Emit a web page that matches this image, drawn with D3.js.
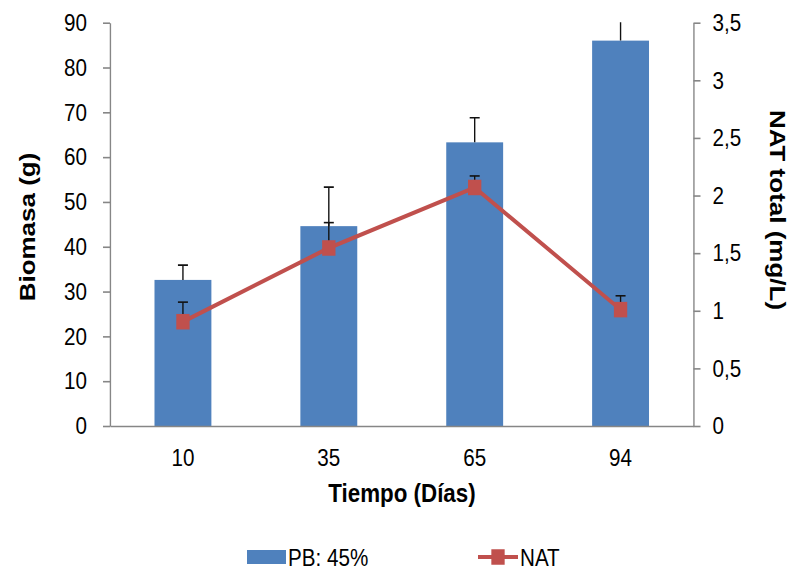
<!DOCTYPE html>
<html>
<head>
<meta charset="utf-8">
<script src="https://cdn.jsdelivr.net/npm/d3@7"></script>
<style>
  html, body { margin: 0; padding: 0; background: #fff; }
  svg { display: block; }
  text { font-family: "Liberation Sans", Arial, sans-serif; fill: #000; }
</style>
</head>
<body>
<svg id="chart" width="790" height="573"></svg>
<script>
// ---- data ----
const days = ["10", "35", "65", "94"];
const biomass = [32.6, 44.6, 63.3, 86.0];
const biomassErr = [3.3, 8.7, 5.5, 4.6];
const nat = [0.905, 1.545, 2.07, 1.01];
const natErr = [0.17, 0.22, 0.10, 0.12];
const leftTicks = [0, 10, 20, 30, 40, 50, 60, 70, 80, 90];
const rightTicks = [0, 0.5, 1, 1.5, 2, 2.5, 3, 3.5];
const rightTickLabels = ["0", "0,5", "1", "1,5", "2", "2,5", "3", "3,5"];
const seriesNames = ["PB: 45%", "NAT"];

// ---- layout (whole picture is horizontally condensed) ----
const sx = 0.86;
const V = v => v / sx;
const pLeft = 110, pRight = 693.5, pTop = 22.7, pBottom = 426;
const barColor = "#4F81BD", lineColor = "#C0504D", axisColor = "#868686";

const svg = d3.select("#chart");
const g = svg.append("g").attr("transform", `scale(${sx},1)`);

const x = d3.scaleBand().domain(days).range([V(pLeft), V(pRight)])
  .paddingInner(0.61).paddingOuter(0.305);
const yL = d3.scaleLinear().domain([0, 90]).range([pBottom, pTop]);
const yR = d3.scaleLinear().domain([0, 3.5]).range([pBottom, pTop]);

g.append("clipPath").attr("id", "plotClip").append("rect")
  .attr("x", V(pLeft) - 20).attr("y", pTop - 0.5)
  .attr("width", V(pRight) - V(pLeft) + 40).attr("height", pBottom - pTop + 1);

// bars
g.append("g").selectAll("rect").data(days).join("rect")
  .attr("x", d => x(d)).attr("width", x.bandwidth())
  .attr("y", (d, i) => yL(biomass[i]))
  .attr("height", (d, i) => pBottom - yL(biomass[i]))
  .attr("fill", barColor);

// bar error bars (plus only)
const capW = V(10) / 2;
const be = g.append("g").attr("clip-path", "url(#plotClip)")
  .attr("stroke", "#111").attr("stroke-width", 1.6);
days.forEach((d, i) => {
  const cx = x(d) + x.bandwidth() / 2;
  const y0 = yL(biomass[i]), y1 = yL(biomass[i] + biomassErr[i]);
  be.append("line").attr("x1", cx).attr("x2", cx).attr("y1", y0).attr("y2", y1);
  be.append("line").attr("x1", cx - capW).attr("x2", cx + capW).attr("y1", y1).attr("y2", y1);
});

// NAT error bars
const ne = g.append("g").attr("stroke", "#111").attr("stroke-width", 1.6);
days.forEach((d, i) => {
  const cx = x(d) + x.bandwidth() / 2;
  const y0 = yR(nat[i]), y1 = yR(nat[i] + natErr[i]);
  ne.append("line").attr("x1", cx).attr("x2", cx).attr("y1", y0).attr("y2", y1);
  ne.append("line").attr("x1", cx - capW).attr("x2", cx + capW).attr("y1", y1).attr("y2", y1);
});

// NAT line
const line = d3.line()
  .x((d, i) => x(days[i]) + x.bandwidth() / 2)
  .y(d => yR(d));
g.append("path").datum(nat).attr("d", line)
  .attr("fill", "none").attr("stroke", lineColor).attr("stroke-width", 4.2);

// markers
const mk = 15.5;
g.append("g").selectAll("rect").data(nat).join("rect")
  .attr("x", (d, i) => x(days[i]) + x.bandwidth() / 2 - mk / 2)
  .attr("y", d => yR(d) - mk / 2)
  .attr("width", mk).attr("height", mk)
  .attr("fill", lineColor);

// axes
function styleAxis(sel) {
  sel.select(".domain").attr("stroke", axisColor).attr("stroke-width", 1.6);
  sel.selectAll(".tick line").attr("stroke", axisColor).attr("stroke-width", 1.6);
  sel.selectAll(".tick text").attr("font-size", 24).attr("fill", "#000")
    .style("font-family", '"Liberation Sans", Arial, sans-serif');
}

const axL = g.append("g").attr("transform", `translate(${V(pLeft)},0)`)
  .call(d3.axisLeft(yL).tickValues(leftTicks).tickFormat(d3.format("d"))
    .tickSize(V(7)).tickSizeOuter(0).tickPadding(V(16)));
styleAxis(axL);

const axR = g.append("g").attr("transform", `translate(${V(pRight)},0)`)
  .call(d3.axisRight(yR).tickValues(rightTicks)
    .tickFormat((d, i) => rightTickLabels[i])
    .tickSize(V(7)).tickSizeOuter(0).tickPadding(V(12)));
styleAxis(axR);

const axB = g.append("g").attr("transform", `translate(0,${pBottom})`)
  .call(d3.axisBottom(x).tickSize(0).tickSizeOuter(0).tickPadding(23));
styleAxis(axB);

// axis titles
g.append("text").attr("transform", `translate(${V(35)},227) rotate(-90)`)
  .attr("text-anchor", "middle").attr("font-size", 26).attr("font-weight", "bold")
  .text("Biomasa (g)");
g.append("text").attr("transform", `translate(${V(770)},210) rotate(90)`)
  .attr("text-anchor", "middle").attr("font-size", 26).attr("font-weight", "bold")
  .text("NAT total (mg/L)");
g.append("text").attr("x", V(402)).attr("y", 502)
  .attr("text-anchor", "middle").attr("font-size", 26).attr("font-weight", "bold")
  .text("Tiempo (Días)");

// legend
const lg = g.append("g");
lg.append("rect").attr("x", V(247)).attr("y", 550).attr("width", V(286) - V(247)).attr("height", 14)
  .attr("fill", barColor);
lg.append("text").attr("x", V(288)).attr("y", 566).attr("font-size", 24).text(seriesNames[0]);
lg.append("line").attr("x1", V(478)).attr("x2", V(518)).attr("y1", 557).attr("y2", 557)
  .attr("stroke", lineColor).attr("stroke-width", 4.2);
lg.append("rect").attr("x", V(498) - mk / 2).attr("y", 557 - mk / 2).attr("width", mk).attr("height", mk)
  .attr("fill", lineColor);
lg.append("text").attr("x", V(520)).attr("y", 566).attr("font-size", 24).text(seriesNames[1]);
</script>
</body>
</html>
